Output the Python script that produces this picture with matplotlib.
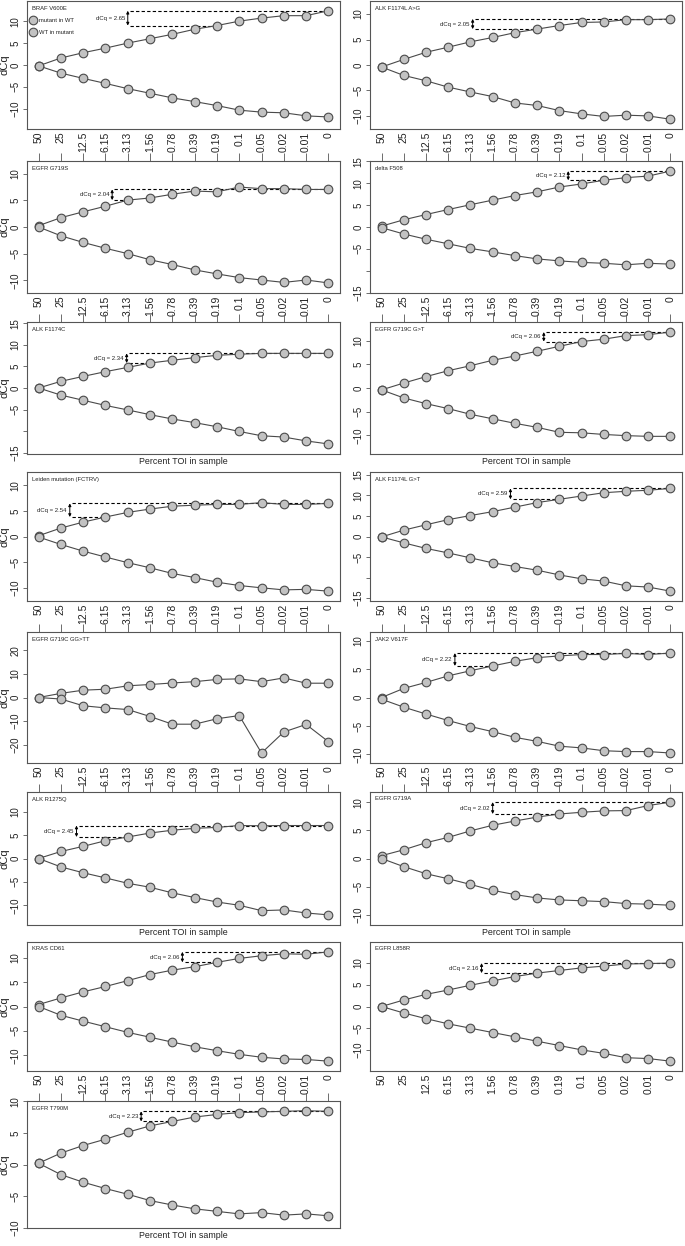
import matplotlib
matplotlib.use("Agg")
import matplotlib.pyplot as plt
from matplotlib.transforms import ScaledTranslation
import numpy as np

plt.rcParams['font.family'] = ['Liberation Sans', 'DejaVu Sans']

# ---------------- data ----------------
x_labels = ["50", "25", "12.5", "6.15", "3.13", "1.56", "0.78", "0.39",
            "0.19", "0.1", "0.05", "0.02", "0.01", "0"]

braf_mut = [-0.2, 1.6, 2.8, 3.85, 5.0, 6.0, 7.0, 8.15, 9.0, 10.0, 10.7, 11.25, 11.25, 12.37]
braf_wt = [-0.2, -1.85, -3.05, -4.2, -5.4, -6.45, -7.5, -8.35, -9.25, -10.3, -10.75, -10.9, -11.6, -11.85]

alk_ag_mut = [-0.4, 1.1, 2.5, 3.5, 4.55, 5.4, 6.35, 7.05, 7.75, 8.35, 8.45, 8.9, 8.9, 9.05]
alk_ag_wt = [-0.4, -2.05, -3.1, -4.35, -5.3, -6.2, -7.45, -7.95, -8.95, -9.6, -10.1, -9.85, -10.0, -10.65]

g719s_mut = [0.25, 1.75, 2.85, 3.9, 5.05, 5.45, 6.15, 6.75, 6.6, 7.5, 7.2, 7.2, 7.05, 7.05]
g719s_wt = [0.0, -1.65, -2.9, -4.0, -5.0, -6.15, -7.05, -8.05, -8.8, -9.5, -9.95, -10.4, -9.95, -10.5]

df508_mut = [0.2, 1.65, 2.85, 4.0, 5.1, 6.15, 7.2, 8.05, 9.15, 9.85, 10.7, 11.3, 11.65, 12.8]
df508_wt = [-0.15, -1.6, -2.8, -3.85, -4.9, -5.7, -6.55, -7.3, -7.75, -8.1, -8.3, -8.65, -8.3, -8.5]

alk_c_mut = [0.0, 1.55, 2.7, 3.8, 4.8, 5.8, 6.45, 7.05, 7.6, 7.85, 8.05, 8.05, 8.05, 8.05]
alk_c_wt = [0.0, -1.65, -2.85, -4.05, -5.1, -6.2, -7.2, -8.05, -9.0, -10.1, -11.1, -11.4, -12.3, -13.0]

g719c_gt_mut = [-0.4, 1.05, 2.4, 3.65, 4.7, 5.85, 6.75, 7.75, 8.8, 9.8, 10.3, 11.05, 11.25, 11.8]
g719c_gt_wt = [-0.4, -2.1, -3.3, -4.35, -5.55, -6.5, -7.45, -8.3, -9.35, -9.45, -9.8, -10.05, -10.2, -10.2]

leiden_mut = [0.15, 1.65, 2.8, 3.8, 4.7, 5.35, 5.9, 6.1, 6.25, 6.25, 6.6, 6.25, 6.25, 6.45]
leiden_wt = [-0.1, -1.55, -2.85, -4.0, -5.1, -6.1, -7.2, -8.0, -8.9, -9.55, -10.0, -10.4, -10.3, -10.65]

alk_gt_mut = [-0.1, 1.55, 2.85, 4.1, 5.1, 6.05, 7.15, 8.25, 9.05, 9.85, 10.65, 11.0, 11.25, 11.7]
alk_gt_wt = [-0.1, -1.55, -2.9, -4.0, -5.2, -6.4, -7.3, -8.2, -9.35, -10.3, -10.85, -12.0, -12.3, -13.3]

ggtt_mut = [0.0, 1.75, 3.1, 3.5, 4.95, 5.5, 6.15, 6.7, 7.65, 7.9, 6.7, 8.3, 6.05, 6.05]
ggtt_wt = [0.0, -0.65, -3.5, -4.4, -5.1, -8.05, -11.3, -11.3, -9.0, -7.65, -23.5, -14.6, -11.4, -18.7]

jak2_mut = [0.0, 1.6, 2.65, 3.8, 4.7, 5.55, 6.35, 7.0, 7.3, 7.55, 7.55, 7.75, 7.55, 7.8]
jak2_wt = [-0.3, -1.7, -2.9, -4.05, -5.1, -6.0, -7.0, -7.7, -8.55, -8.85, -9.35, -9.5, -9.5, -9.75]

r1275q_mut = [0.0, 1.5, 2.6, 3.8, 4.6, 5.45, 6.05, 6.45, 6.65, 7.05, 7.0, 7.05, 7.05, 7.05]
r1275q_wt = [0.0, -1.8, -3.05, -4.15, -5.3, -6.15, -7.35, -8.35, -9.3, -10.0, -11.15, -11.0, -11.65, -12.05]

g719a_mut = [0.5, 1.55, 2.8, 3.75, 4.9, 5.9, 6.65, 7.35, 7.9, 8.2, 8.45, 8.5, 9.4, 10.0]
g719a_wt = [0.0, -1.45, -2.7, -3.6, -4.6, -5.65, -6.4, -7.0, -7.35, -7.5, -7.65, -8.0, -8.1, -8.3]

kras_mut = [0.4, 1.75, 3.0, 4.1, 5.3, 6.55, 7.45, 8.15, 9.05, 9.85, 10.4, 10.8, 10.7, 11.2]
kras_wt = [0.0, -1.8, -3.0, -4.15, -5.3, -6.3, -7.3, -8.25, -9.05, -9.8, -10.4, -10.75, -10.85, -11.2]

l858r_mut = [0.0, 1.5, 2.8, 3.8, 4.9, 5.9, 6.9, 7.7, 8.3, 8.9, 9.3, 9.8, 9.9, 10.0]
l858r_wt = [0.0, -1.5, -2.8, -4.0, -5.0, -6.0, -7.0, -8.0, -9.0, -10.0, -10.8, -11.8, -12.0, -12.6]

t790m_mut = [0.2, 1.8, 3.0, 4.0, 5.1, 6.1, 6.8, 7.5, 7.9, 8.2, 8.3, 8.4, 8.5, 8.4]
t790m_wt = [0.2, -1.6, -2.8, -3.8, -4.7, -5.7, -6.4, -7.0, -7.4, -7.8, -7.6, -8.0, -7.8, -8.1]

titles = ["BRAF V600E", "ALK F1174L A>G", "EGFR G719S", "delta F508",
          "ALK F1174C", "EGFR G719C G>T", "Leiden mutation (FCTRV)", "ALK F1174L G>T",
          "EGFR G719C GG>TT", "JAK2 V617F", "ALK R1275Q", "EGFR G719A",
          "KRAS CD61", "EGFR L858R", "EGFR T790M"]
mut_series = [braf_mut, alk_ag_mut, g719s_mut, df508_mut, alk_c_mut, g719c_gt_mut,
              leiden_mut, alk_gt_mut, ggtt_mut, jak2_mut, r1275q_mut, g719a_mut,
              kras_mut, l858r_mut, t790m_mut]
wt_series = [braf_wt, alk_ag_wt, g719s_wt, df508_wt, alk_c_wt, g719c_gt_wt,
             leiden_wt, alk_gt_wt, ggtt_wt, jak2_wt, r1275q_wt, g719a_wt,
             kras_wt, l858r_wt, t790m_wt]
# dCq annotation: label, arrow position (category index), reference point index
dcq_values = ["2.65", "2.05", "2.04", "2.12", "2.34", "2.06", "2.54", "2.59",
              None, "2.22", "2.45", "2.02", "2.06", "2.16", "2.23"]
dcq_arrow_at = [4.0, 4.1, 3.3, 8.4, 3.95, 7.3, 1.4, 5.8, None, 3.3, 1.7, 5.0, 6.45, 4.5, 4.6]
dcq_ref_idx = [8, 7, 4, 10, 5, 9, 3, 8, None, 5, 4, 8, 8, 7, 6]

legend_labels = ["mutant in WT", "WT in mutant"]

# ---------------- layout ----------------
W, H = 685, 1246
DPI = 100
fig = plt.figure(figsize=(W / DPI, H / DPI), dpi=DPI)

rows_px = [(1, 129), (161, 293), (322, 454), (472, 601), (632, 763),
           (792, 925), (942, 1071), (1101, 1228)]
cols_px = [(27, 340), (370, 682)]
label_rows = {0, 1, 3, 4, 6}
toptick_rows = {1, 2, 4, 5, 7}
xlabel_rows = {2, 5, 7}

LINE_C = '#4a4a4a'
FACE_C = '#c2c2c2'
EDGE_C = '#4a4a4a'
TXT_C = '#222222'
SPINE_C = '#555555'


def px_offset(ax, dx, dy):
    return ax.transAxes + ScaledTranslation(dx / DPI, dy / DPI, fig.dpi_scale_trans)


xs = np.arange(len(x_labels))
for i, title in enumerate(titles):
    row, col = divmod(i, 2)
    l, r = cols_px[col]
    t, b = rows_px[row]
    ax = fig.add_axes([l / W, 1 - b / H, (r - l) / W, (b - t) / H])
    mut = mut_series[i]
    wt = wt_series[i]

    for s in (mut, wt):
        ax.plot(xs, s, color=LINE_C, lw=0.8, marker='o', ms=6.2,
                mfc=FACE_C, mec=EDGE_C, mew=0.8, zorder=3)

    lim = 1.18 * max(np.max(np.abs(mut)), np.max(np.abs(wt)))
    ax.set_ylim(-lim, lim)
    ax.set_xlim(-0.52, len(x_labels) - 1 + 0.52)

    step = 10 if lim > 20 else 5
    ticks = [v for v in range(-40, 41, step) if -lim <= v <= lim]
    labs = []
    for v in ticks:
        s = f"{v:g}".replace('-', '\u2212')
        if v == -10 and -15 in ticks:
            s = ''
        labs.append(s)
    ax.set_yticks(ticks)
    ax.set_yticklabels(labs, rotation=90, va='center', fontsize=7, color=TXT_C)
    ax.tick_params(axis='y', length=3, width=0.6, pad=1.5, color=SPINE_C)

    # x axis
    ax.set_xticks(xs)
    has_top = row in toptick_rows
    tl = 5.5
    if row in label_rows:
        ax.set_xticklabels(x_labels, rotation=90, fontsize=7.5, color=TXT_C)
    else:
        ax.set_xticklabels([''] * len(x_labels))
    ax.tick_params(axis='x', bottom=False, top=has_top, labeltop=False,
                   labelbottom=(row in label_rows), direction='out',
                   length=tl if has_top else 0, width=0.6, color=SPINE_C,
                   pad=(2.0 - tl) if has_top else 2.0)

    for sp in ax.spines.values():
        sp.set_color(SPINE_C)
        sp.set_linewidth(0.8)

    # title
    ax.text(0, 1, title, transform=px_offset(ax, 5, -7), ha='left', va='center',
            fontsize=4.2, color=TXT_C)

    if i == 0:
        for k, lab in enumerate(legend_labels):
            ax.plot([0], [1], transform=px_offset(ax, 6, -19 - 12 * k), marker='o',
                    ms=6.2, mfc=FACE_C, mec=EDGE_C, mew=0.8, clip_on=False)
            ax.text(0, 1, lab, transform=px_offset(ax, 12, -19 - 12 * k),
                    ha='left', va='center', fontsize=4.2, color=TXT_C)

    if dcq_values[i] is not None:
        a = dcq_arrow_at[i]
        j = dcq_ref_idx[i]
        top = mut[-1]
        bot = mut[j]
        ax.plot([a + 0.1, xs[-1]], [top, top], ls=(0, (3, 2)), color='k', lw=0.8, zorder=2)
        ax.plot([a + 0.1, xs[j]], [bot, bot], ls=(0, (3, 2)), color='k', lw=0.8, zorder=2)
        ax.annotate('', xy=(a, top), xytext=(a, bot),
                    arrowprops=dict(arrowstyle='<|-|>', lw=0.7, color='k',
                                    mutation_scale=4, shrinkA=0, shrinkB=0))
        ax.annotate(f'dCq = {dcq_values[i]}', xy=(a, (top + bot) / 2),
                    xytext=(-3, 0), textcoords='offset pixels', ha='right',
                    va='center', fontsize=4.3, color=TXT_C)

    if col == 0:
        yc = 1 - ((t + b) / 2) / H
        fig.text(5.0 / W, yc, 'dCq', rotation=90, ha='center', va='center',
                 fontsize=8, color=TXT_C)

    if row in xlabel_rows:
        ax.text(0.5, 0, 'Percent TOI in sample', transform=px_offset(ax, 0, -3),
                ha='center', va='top', fontsize=6.4, color=TXT_C)

fig.savefig('out.png', dpi=DPI)
